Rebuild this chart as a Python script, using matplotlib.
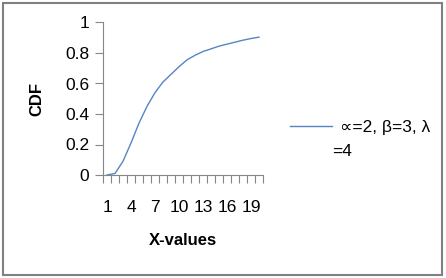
import matplotlib.pyplot as plt
from matplotlib.patches import Rectangle

# values
x_vals = list(range(1, 21))
cdf = [0.0, 0.01, 0.09, 0.21, 0.34, 0.45, 0.54, 0.61, 0.66, 0.71,
       0.755, 0.785, 0.81, 0.827, 0.845, 0.858, 0.871, 0.884, 0.895, 0.904]
x_ticklabels = ['1', '4', '7', '10', '13', '16', '19']
y_ticks = [0, 0.2, 0.4, 0.6, 0.8, 1]
series_label = '\u221d=2, \u03b2=3, \u03bb'

plt.rcParams['font.family'] = ['Liberation Sans', 'DejaVu Sans']
gray = '#868686'

W, H = 446, 278
fig = plt.figure(figsize=(W / 100, H / 100), dpi=100)
ax = fig.add_axes([103 / W, (H - 175) / H, 160 / W, (175 - 22.5) / H])

# category axis: point i sits in the middle of slot i
pos = [i + 0.5 for i in range(len(x_vals))]
line, = ax.plot(pos, cdf, color='#5585c3', lw=1)

ax.set_xlim(0, len(x_vals))
ax.set_ylim(0, 1)
ax.set_yticks(y_ticks)
ax.set_yticklabels(['0', '0.2', '0.4', '0.6', '0.8', '1'])
ax.set_xticks(range(len(x_vals) + 1))
ax.set_xticklabels([])
ax.set_xticks([pos[x_vals.index(int(t))] for t in x_ticklabels], minor=True)
ax.set_xticklabels(x_ticklabels, minor=True)

ax.tick_params(axis='x', which='major', length=6, color=gray, direction='out')
ax.tick_params(axis='x', which='minor', length=0, pad=18, labelsize=12.5)
ax.tick_params(axis='y', length=6, color=gray, direction='out', labelsize=12.5, pad=4)
for s in ['top', 'right']:
    ax.spines[s].set_visible(False)
for s in ['left', 'bottom']:
    ax.spines[s].set_color(gray)

ax.set_ylabel('CDF', fontsize=12, fontweight='bold', labelpad=15)
ax.set_xlabel('X-values', fontsize=12, fontweight='bold', labelpad=13)

leg = ax.legend([line], [series_label], loc='upper left', bbox_to_anchor=(290 / W, 1 - 120 / H),
                bbox_transform=fig.transFigure, frameon=False, fontsize=12.5,
                handlelength=2.4, handletextpad=0.5, borderpad=0, borderaxespad=0)
fig.text(332 / W, 1 - 152 / H, '=4', fontsize=12.5, va='center', ha='left')

fig.patches.append(Rectangle((3 / W, 3.5 / H), 439 / W, 272 / H, transform=fig.transFigure,
                             fill=False, edgecolor='#808080', lw=1.5))

fig.savefig('out.png', dpi=100)
